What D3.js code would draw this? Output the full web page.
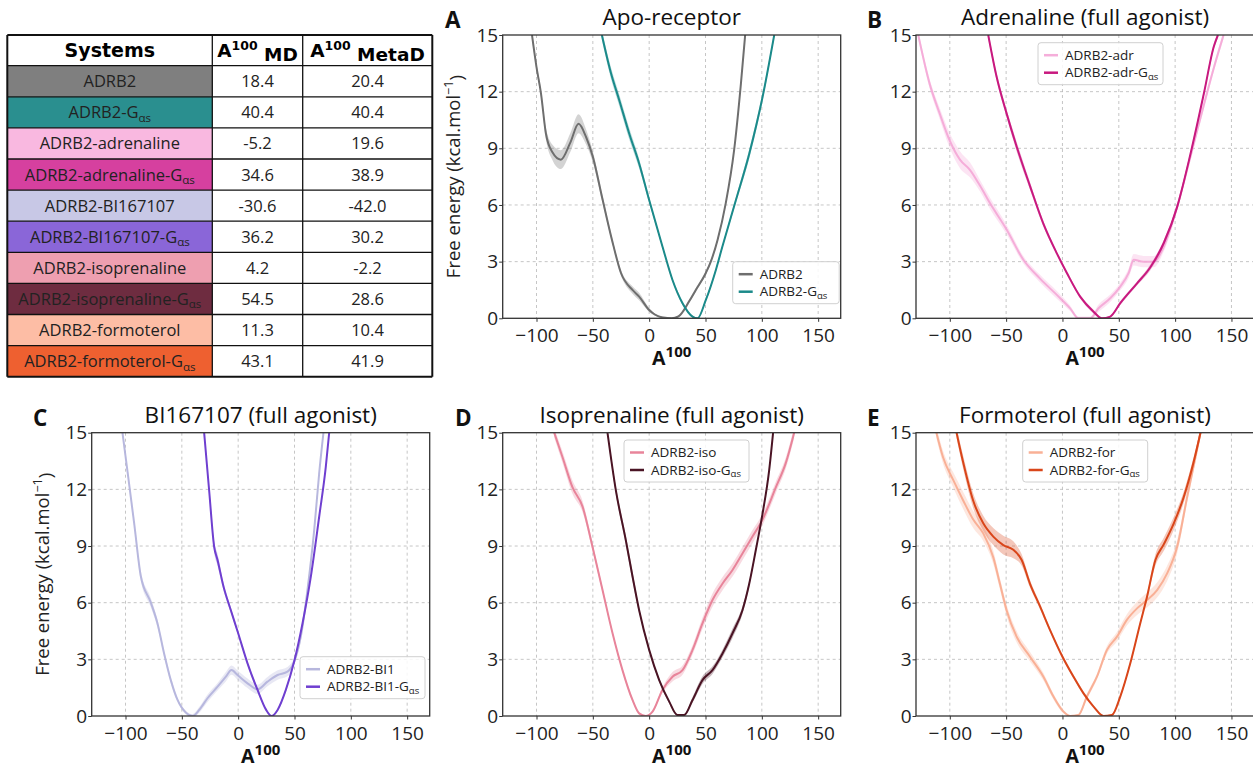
<!DOCTYPE html>
<html>
<head>
<meta charset="utf-8">
<script src="https://cdn.jsdelivr.net/npm/d3@7"></script>
<style>
  body { margin: 0; background: #fff; }
  svg { display: block; font-family: "Open Sans", sans-serif; }
  .tick text { font-size: 19px; fill: #222; font-family: "Open Sans", sans-serif; }
  .tick line { stroke: #333; }
</style>
</head>
<body>
<div id="chart"></div>
<script>
// table values
const tableSystems = ["ADRB2", "ADRB2-G", "ADRB2-adrenaline", "ADRB2-adrenaline-G", "ADRB2-BI167107",
    "ADRB2-BI167107-G", "ADRB2-isoprenaline", "ADRB2-isoprenaline-G", "ADRB2-formoterol", "ADRB2-formoterol-G"];
const tableGas = [false, true, false, true, false, true, false, true, false, true];
const tableMD = ["18.4", "40.4", "-5.2", "34.6", "-30.6", "36.2", "4.2", "54.5", "11.3", "43.1"];
const tableMetaD = ["20.4", "40.4", "19.6", "38.9", "-42.0", "30.2", "-2.2", "28.6", "10.4", "41.9"];
const tableColors = ["#7f7f7f", "#2a8f8f", "#f9b8e0", "#d6409f", "#c8c8e6",
    "#8a66d8", "#ee9fb0", "#6e2c40", "#fdbda5", "#ee6030"];

// free energy profiles: [A100, energy, band half width]
const adrb2 = [[-104,15,0.2],[-100,13.3,0.2],[-96,11.9,0.2],[-91.7,9.8,0.3],[-86,8.8,0.4],[-78.4,8.4,0.5],
    [-70,9.3,0.5],[-62.7,10.3,0.5],[-56,9.6,0.4],[-50,8.55,0.3],[-41.4,6.3,0.2],[-33,4.15,0.15],[-25,2.4,0.15],
    [-14.8,1.5,0.2],[-8.9,1.15,0.2],[0,0.44,0.1],[5,0.2,0.05],[12,0.04,0.05],[20,0,0.05],[26,0.1,0.05],
    [35.5,0.9,0.1],[41.4,1.5,0.1],[50.3,2.4,0.1],[54.7,3.0,0.1],[60.7,4.15,0.1],[68,6.1,0.1],[75.4,8.9,0.1],
    [81.4,12.4,0.1],[85.2,15,0.1]];
const adrb2Gas = [[-42,15,0.25],[-34,13,0.3],[-26.6,11.56,0.3],[-17.8,9.8,0.3],[-8.9,8.2,0.25],[0,6.26,0.15],
    [11.8,3.8,0.1],[20.7,2.03,0.1],[29.6,0.8,0.1],[38.5,0.09,0.05],[42.9,0,0.05],[50.3,0.97,0.1],[59.2,2.56,0.1],
    [65,3.8,0.1],[77,6.26,0.15],[88.8,8.7,0.25],[100.6,11.7,0.2],[111,15,0.15]];
const adr = [[-128,15,0.2],[-117.8,12.4,0.25],[-109,10.85,0.3],[-100,9.4,0.4],[-91,8.4,0.45],[-82,7.85,0.4],
    [-73,7.0,0.3],[-64.4,6.1,0.3],[-49.6,4.7,0.25],[-34.7,3.1,0.2],[-19.9,2.1,0.2],[-5,1.24,0.2],[6.8,0.53,0.15],
    [14.2,0,0.1],[24.6,0,0.1],[32,0.53,0.2],[42.4,1.06,0.2],[51.3,1.68,0.2],[58.8,2.4,0.25],[63.2,3.1,0.3],
    [72,3.0,0.3],[81,3.0,0.3],[90,3.8,0.25],[101.8,5.9,0.2],[113.6,8.56,0.2],[125.5,11.3,0.2],[135,13.4,0.2],
    [143,15,0.2]];
const adrGas = [[-65.9,15,0.2],[-58.5,12.8,0.2],[-49.6,10.85,0.2],[-40.7,9.1,0.25],[-28.8,7.0,0.2],[-16.9,5.0,0.15],
    [-5,3.44,0.1],[3.9,2.4,0.1],[15.7,1.15,0.1],[27.6,0.35,0.1],[35,0,0.05],[42.4,0.09,0.05],[51.3,0.8,0.1],
    [66.2,1.85,0.1],[78,2.7,0.15],[90,4.0,0.15],[101.8,5.9,0.15],[113.6,8.7,0.15],[125.5,11.9,0.15],
    [134.4,14.4,0.15],[138,15,0.15]];
const bi1 = [[-102.7,15,0.2],[-98,12.85,0.2],[-92.3,10.2,0.2],[-86.4,7.4,0.25],[-77.5,6.0,0.25],[-71.6,4.9,0.2],
    [-65.7,3.3,0.15],[-59.8,1.9,0.15],[-53.8,0.85,0.1],[-46.4,0.18,0.1],[-40.5,0,0.1],[-34.6,0.32,0.15],
    [-27.2,0.94,0.2],[-18.3,1.55,0.2],[-10.9,2.08,0.25],[-5.9,2.43,0.25],[-0.6,2.17,0.25],[8.3,1.73,0.25],
    [17.2,1.41,0.25],[26,1.82,0.25],[35,2.17,0.25],[43.8,2.35,0.25],[49.7,2.88,0.2],[55.6,4.2,0.2],
    [61.5,6.67,0.2],[67.5,9.85,0.2],[71.9,12.85,0.2],[75.7,15,0.2]];
const bi1Gas = [[-30.2,15,0.15],[-25.7,11.9,0.2],[-21.3,8.96,0.3],[-18.3,8.26,0.3],[-13,6.85,0.2],[-6.5,5.6,0.15],
    [0,4.38,0.1],[8.3,2.79,0.1],[17.2,1.38,0.1],[24.6,0.35,0.05],[29.6,0,0.05],[35,0.32,0.05],[42.3,1.38,0.1],
    [49.7,2.88,0.1],[57.1,4.9,0.1],[64.5,7.38,0.1],[71.9,10.55,0.1],[77.8,13.2,0.1],[80.8,15,0.1]];
const iso = [[-84.3,15,0.25],[-76.9,13.7,0.3],[-68,12.1,0.35],[-59.2,11.1,0.3],[-50.3,8.96,0.2],[-41.4,6.67,0.15],
    [-32.5,4.38,0.1],[-23.7,2.43,0.1],[-14.8,0.85,0.1],[-8.9,0.14,0.05],[-3,0,0.05],[3,0.23,0.05],[11.8,1.38,0.15],
    [20.7,2.08,0.25],[29.6,2.43,0.25],[38.5,3.5,0.25],[47.3,4.9,0.3],[56.2,6.14,0.35],[65,7.0,0.35],
    [74,7.73,0.35],[82.8,8.6,0.35],[91.7,9.5,0.35],[100.6,10.4,0.3],[112.4,12.1,0.3],[121.3,13.4,0.3],
    [128.7,15,0.3]];
const isoGas = [[-37,15,0.15],[-29.6,11.96,0.2],[-20.7,9.3,0.25],[-14.8,7.4,0.25],[-8.9,5.6,0.15],[0,3.5,0.1],
    [8.9,1.9,0.1],[17.8,0.76,0.1],[25.1,0.05,0.05],[31,0.05,0.05],[38.5,0.85,0.15],[47.3,1.9,0.2],[56.2,2.43,0.2],
    [65,3.3,0.2],[74,4.38,0.25],[82.8,5.6,0.2],[88.8,7.0,0.15],[94.7,8.8,0.1],[100.6,10.7,0.1],[106.5,13.0,0.1],
    [110,15,0.1]];
const form = [[-111.9,15,0.3],[-106,13.7,0.35],[-97,12.5,0.4],[-88,11.4,0.45],[-79.2,10.4,0.45],[-70.3,9.67,0.4],
    [-61.4,8.4,0.35],[-55.5,7.0,0.3],[-49.6,5.6,0.3],[-40.7,4.2,0.3],[-28.8,3.14,0.25],[-16.9,2.08,0.2],
    [-8,1.03,0.15],[0.9,0.23,0.1],[6.8,0,0.05],[14.2,0.05,0.05],[21.7,1.03,0.15],[30.6,2.08,0.15],[39.5,3.5,0.2],
    [48.4,4.2,0.25],[57.3,5.1,0.3],[66.2,5.7,0.35],[75,6.14,0.4],[84,6.67,0.4],[92.9,7.55,0.4],[101.8,8.96,0.35],
    [110.7,11.6,0.3],[118,13.7,0.3],[122.5,15,0.3]];
const formGas = [[-94,15,0.3],[-88,13.4,0.35],[-79.2,11.4,0.4],[-70.3,10.2,0.4],[-61.4,9.5,0.45],[-52.5,9.05,0.5],
    [-43.6,8.8,0.45],[-36.2,8.26,0.3],[-28.8,7.0,0.2],[-19.9,5.8,0.15],[-11,4.55,0.1],[0,3.14,0.1],[9.8,2.08,0.1],
    [18.7,1.2,0.1],[27.6,0.5,0.05],[36.5,0,0.05],[43.9,0.05,0.05],[51.3,1.03,0.1],[60.2,2.79,0.1],[69,4.9,0.1],
    [75,6.3,0.15],[82.5,8.26,0.3],[90,9.1,0.35],[98.8,10.2,0.35],[107.7,11.6,0.3],[116.6,13.5,0.25],
    [122.5,15,0.2]];

const xTicks = [-100, -50, 0, 50, 100, 150];
const yTicks = [0, 3, 6, 9, 12, 15];

const panels = [
    { letter: "A", title: "Apo-receptor", x0: 502.7, y0: 35, lx: 445, ylabel: true,
      legend: [230, 226.7], series: [
        { name: "ADRB2", gas: false, data: adrb2, color: "#6e6e6e", op: 1 },
        { name: "ADRB2-G", gas: true, data: adrb2Gas, color: "#1b8a8a", op: 1 }] },
    { letter: "B", title: "Adrenaline (full agonist)", x0: 916, y0: 35, lx: 867, ylabel: false,
      legend: [122, 7.7], series: [
        { name: "ADRB2-adr", gas: false, data: adr, color: "#f4a6d6", op: 0.9 },
        { name: "ADRB2-adr-G", gas: true, data: adrGas, color: "#c8197f", op: 1 }] },
    { letter: "C", title: "BI167107 (full agonist)", x0: 91.7, y0: 432.7, lx: 33, ylabel: true,
      legend: [208.3, 224], series: [
        { name: "ADRB2-BI1", gas: false, data: bi1, color: "#b4b4dc", op: 0.95 },
        { name: "ADRB2-BI1-G", gas: true, data: bi1Gas, color: "#6f3fd0", op: 1 }] },
    { letter: "D", title: "Isoprenaline (full agonist)", x0: 502.7, y0: 432.7, lx: 455, ylabel: false,
      legend: [121.3, 7.3], series: [
        { name: "ADRB2-iso", gas: false, data: iso, color: "#e8849a", op: 1 },
        { name: "ADRB2-iso-G", gas: true, data: isoGas, color: "#4a1424", op: 1 }] },
    { letter: "E", title: "Formoterol (full agonist)", x0: 916, y0: 432.7, lx: 867, ylabel: false,
      legend: [106.7, 7.3], series: [
        { name: "ADRB2-for", gas: false, data: form, color: "#f9b096", op: 1 },
        { name: "ADRB2-for-G", gas: true, data: formGas, color: "#d9461a", op: 1 }] }
];

const W = 1253, H = 769;
const pw = 338, ph = 283.3;

const svg = d3.select("#chart").append("svg")
    .attr("width", W).attr("height", H);
svg.append("rect").attr("width", W).attr("height", H).attr("fill", "#fff");

// helper for "G" + subscript alpha-s
function addGas(textSel, base, gas, subSize) {
    textSel.append("tspan").text(base);
    if (gas) {
        textSel.append("tspan").attr("font-size", subSize).attr("dy", "0.3em").text("αs");
    }
}

// ---- table ----
const tX = [7.3, 212.3, 302.7, 432.3];
const tTop = 35, headH = 30.7, rowH = 31.1;
const table = svg.append("g");

tableSystems.forEach((s, i) => {
    let y = tTop + headH + i * rowH;
    table.append("rect").attr("x", tX[0]).attr("y", y).attr("width", tX[1] - tX[0]).attr("height", rowH)
        .attr("fill", tableColors[i]);
    let t = table.append("text").attr("x", (tX[0] + tX[1]) / 2).attr("y", y + rowH / 2 + 6)
        .attr("text-anchor", "middle").attr("font-size", 16.5).attr("fill", "#222");
    addGas(t, s, tableGas[i], 11.5);
    [tableMD[i], tableMetaD[i]].forEach((v, j) => {
        table.append("text").attr("x", (tX[j + 1] + tX[j + 2]) / 2).attr("y", y + rowH / 2 + 6)
            .attr("text-anchor", "middle").attr("font-size", 16.5).attr("fill", "#222").text(v);
    });
});

// header
let hy = tTop + headH / 2 + 7;
table.append("text").attr("x", (tX[0] + tX[1]) / 2).attr("y", hy).attr("text-anchor", "middle")
    .attr("font-family", "DejaVu Sans").attr("font-weight", "bold").attr("font-size", 19).text("Systems");
["MD", "MetaD"].forEach((lab, j) => {
    let t = table.append("text").attr("x", (tX[j + 1] + tX[j + 2]) / 2).attr("y", hy).attr("text-anchor", "middle")
        .attr("font-family", "DejaVu Sans").attr("font-weight", "bold").attr("font-size", 18.5);
    t.append("tspan").text("A");
    t.append("tspan").attr("font-size", 12.5).attr("dy", "-0.55em").text("100");
    t.append("tspan").attr("dy", "0.55em").text(" " + lab);
});

// grid of table lines
for (let i = 0; i <= 11; i++) {
    let y = i === 0 ? tTop : tTop + headH + (i - 1) * rowH;
    table.append("line").attr("x1", tX[0]).attr("x2", tX[3]).attr("y1", y).attr("y2", y)
        .attr("stroke", "#111").attr("stroke-width", i === 0 || i === 11 ? 2 : 1.3);
}
tX.forEach((x, i) => {
    table.append("line").attr("x1", x).attr("x2", x).attr("y1", tTop).attr("y2", tTop + headH + 10 * rowH)
        .attr("stroke", "#111").attr("stroke-width", i === 0 || i === 3 ? 2 : 1.3);
});

// ---- panels ----
const x = d3.scaleLinear().domain([-130, 170]).range([0, pw]);
const y = d3.scaleLinear().domain([0, 15]).range([ph, 0]);

const line = d3.line().x(d => x(d[0])).y(d => y(d[1])).curve(d3.curveMonotoneX);
const band = d3.area().x(d => x(d[0])).y0(d => y(d[1] - d[2])).y1(d => y(d[1] + d[2])).curve(d3.curveMonotoneX);

panels.forEach((p, pi) => {
    let g = svg.append("g").attr("transform", `translate(${p.x0},${p.y0})`);

    // grid
    g.selectAll(".gx").data(xTicks).join("line")
        .attr("x1", d => x(d)).attr("x2", d => x(d)).attr("y1", 0).attr("y2", ph)
        .attr("stroke", "#b8b8b8").attr("stroke-width", 0.8).attr("stroke-dasharray", "3,3");
    g.selectAll(".gy").data(yTicks.slice(1, -1)).join("line")
        .attr("x1", 0).attr("x2", pw).attr("y1", d => y(d)).attr("y2", d => y(d))
        .attr("stroke", "#b8b8b8").attr("stroke-width", 0.8).attr("stroke-dasharray", "3,3");

    // clip
    svg.append("clipPath").attr("id", "clip" + pi)
        .append("rect").attr("width", pw).attr("height", ph);
    let plot = g.append("g").attr("clip-path", `url(#clip${pi})`);

    p.series.forEach(s => {
        plot.append("path").datum(s.data).attr("d", band)
            .attr("fill", s.color).attr("opacity", 0.3);
        plot.append("path").datum(s.data).attr("d", line)
            .attr("fill", "none").attr("stroke", s.color).attr("stroke-width", 2)
            .attr("opacity", s.op);
    });

    // axes
    let xa = g.append("g").attr("transform", `translate(0,${ph})`)
        .call(d3.axisBottom(x).tickValues(xTicks).tickSize(3.5).tickPadding(3));
    let ya = g.append("g")
        .call(d3.axisLeft(y).tickValues(yTicks).tickSize(3.5).tickPadding(1));
    xa.select(".domain").remove();
    ya.select(".domain").remove();
    xa.selectAll(".tick text").attr("dy", "0.9em");

    g.append("rect").attr("width", pw).attr("height", ph)
        .attr("fill", "none").attr("stroke", "#333").attr("stroke-width", 1.3);

    // title and letter
    g.append("text").attr("x", pw / 2).attr("y", -10).attr("text-anchor", "middle")
        .attr("font-size", 22.5).attr("fill", "#111").text(p.title);
    svg.append("text").attr("x", p.lx).attr("y", p.y0 - 7).attr("font-size", 22.5)
        .attr("font-weight", "bold").attr("fill", "#111").text(p.letter);

    // x label
    let xl = g.append("text").attr("x", pw / 2).attr("y", ph + 47).attr("text-anchor", "middle")
        .attr("font-weight", "bold").attr("font-size", 19.5).attr("fill", "#111");
    xl.append("tspan").text("A");
    xl.append("tspan").attr("font-size", 15).attr("dy", "-0.55em").text("100");

    if (p.ylabel) {
        let yl = g.append("text").attr("transform", `translate(${-43},${ph / 2}) rotate(-90)`)
            .attr("text-anchor", "middle").attr("font-size", 18.5).attr("fill", "#222");
        yl.append("tspan").text("Free energy (kcal.mol");
        yl.append("tspan").attr("font-size", 12.5).attr("dy", "-0.55em").text("−1");
        yl.append("tspan").attr("dy", "0.55em").text(")");
    }

    // legend
    let lg = g.append("g").attr("transform", `translate(${p.legend[0]},${p.legend[1]})`);
    lg.append("rect").attr("width", Math.min(125, pw - p.legend[0] - 1.5)).attr("height", 42)
        .attr("rx", 3).attr("fill", "#fff").attr("fill-opacity", 0.85).attr("stroke", "#d0d0d0");
    p.series.forEach((s, i) => {
        let yy = 12.5 + i * 17.5;
        lg.append("line").attr("x1", 6).attr("x2", 20).attr("y1", yy).attr("y2", yy)
            .attr("stroke", s.color).attr("stroke-width", 2.5).attr("opacity", s.op);
        let t = lg.append("text").attr("x", 27).attr("y", yy + 4.6).attr("font-size", 13.5).attr("fill", "#222");
        addGas(t, s.name, s.gas, 9.5);
    });
});
</script>
</body>
</html>
